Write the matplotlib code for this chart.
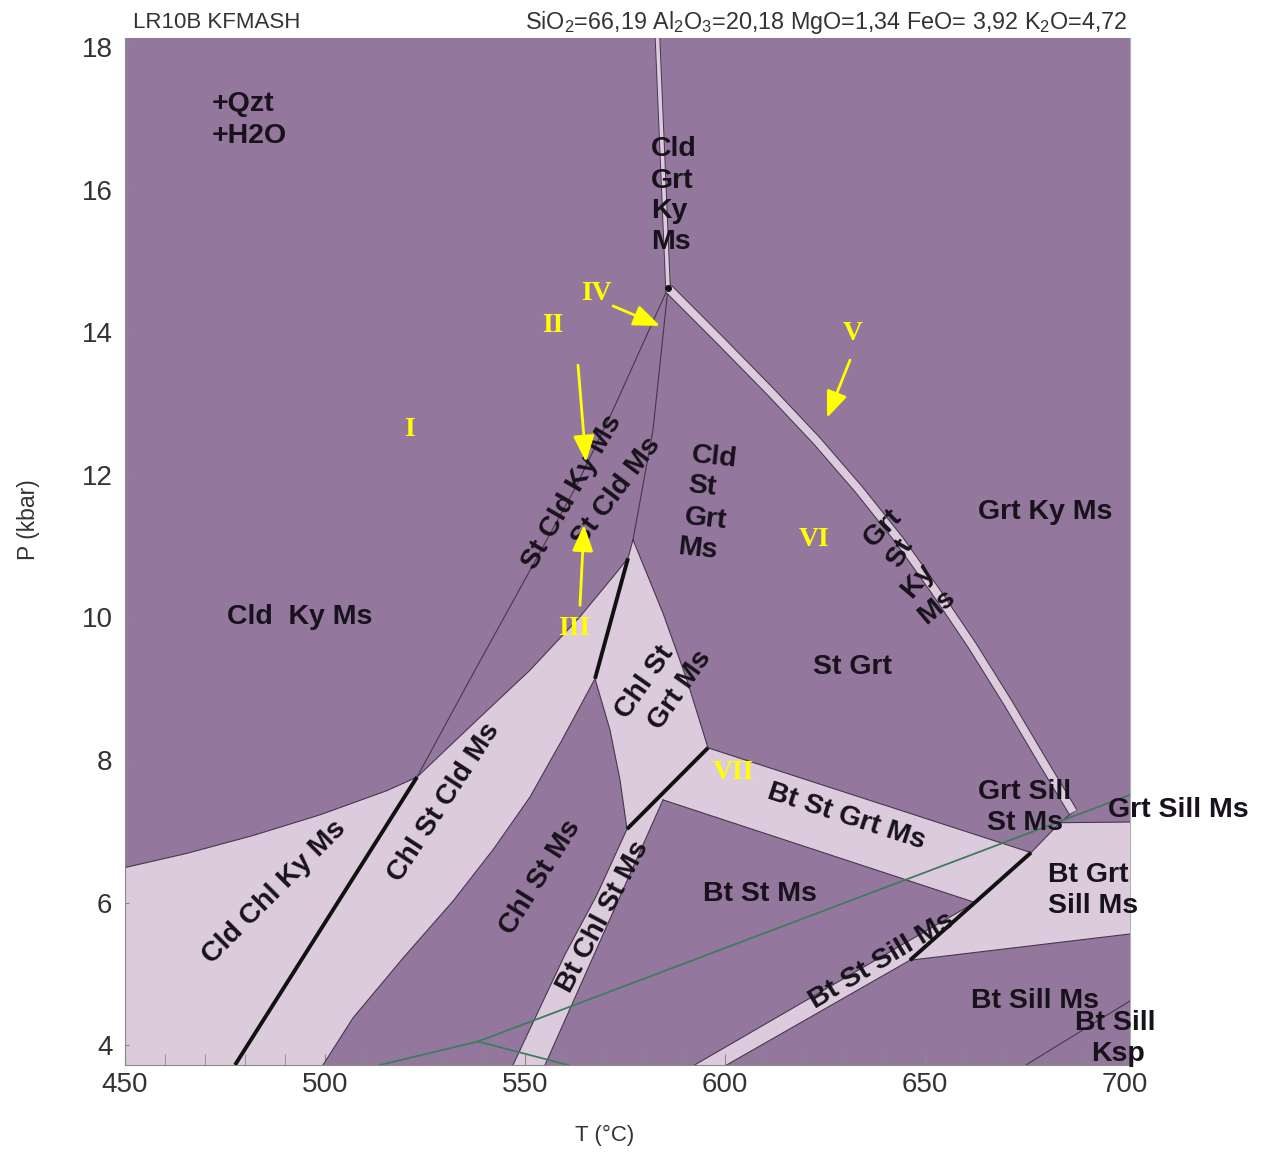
import numpy as np
import matplotlib.pyplot as plt
from matplotlib.patches import Polygon
import matplotlib.patheffects as pe

plt.rcParams['mathtext.default'] = 'regular'

DARK = '#94779c'
LIGHT = '#dccbdc'
EDGE = '#46384c'
GREEN = '#3f7d5c'
YELLOW = '#ffff00'
INK = '#17121b'

T_MIN, T_MAX = 450, 701.25
P_MIN, P_MAX = 3.72, 18.13

# ---- field boundaries (T in degC, P in kbar) ----
# top of Cld Chl Ky Ms
cck_T = [450, 465.5, 482, 498.75, 515.5, 523]
cck_P = [6.49, 6.69, 6.94, 7.23, 7.57, 7.76]
# top of Chl St Cld Ms, ends at the apex of Chl St Grt Ms
cscm_top_T = [523, 538.75, 551.25, 563.75, 572, 575.75, 577]
cscm_top_P = [7.76, 8.60, 9.26, 10.01, 10.57, 10.83, 11.09]
# lower side of Chl St Cld Ms
cscm_bot_T = [567.5, 559.25, 551.25, 542, 532, 519.5, 507, 499.5]
cscm_bot_P = [9.14, 8.28, 7.48, 6.74, 6.02, 5.22, 4.38, 3.72]
# Chl St Grt Ms sides
cstg_right_T = [577, 584.5, 590.5, 595.75]
cstg_right_P = [11.09, 10.06, 9.12, 8.17]
cstg_left_T = [567.5, 571.25, 573.75, 575.5]
cstg_left_P = [9.14, 8.42, 7.72, 7.03]
# Bt Chl St Ms sides
bcs_left_T = [547, 560, 568, 575.5]
bcs_left_P = [3.72, 5.27, 6.11, 7.03]
bcs_right_T = [555, 584.5]
bcs_right_P = [3.72, 7.44]
# Bt St Grt Ms sides
bsg_top_T = [595.75, 676.5]
bsg_top_P = [8.17, 6.70]
bsg_bot_T = [584.5, 662.5]
bsg_bot_P = [7.44, 6.00]
# Bt St Sill Ms sides
bss_top_T = [592.4, 662.5]
bss_top_P = [3.72, 6.00]
bss_bot_T = [600.4, 646.25]
bss_bot_P = [3.72, 5.19]
# Bt Grt Sill Ms top and bottom
bgs_top_T = [676.5, 683.75, 703]
bgs_top_P = [6.70, 7.12, 7.13]
bgs_bot_T = [646.25, 703]
bgs_bot_P = [5.19, 5.57]
# thin lines from the invariant point
lineA_T = [585.75, 578.75, 572.0, 562.5, 551.25, 537.5, 523.0]
lineA_P = [14.62, 13.75, 12.91, 11.81, 10.66, 9.26, 7.76]
lineB_T = [585.75, 582.0, 577.0]
lineB_P = [14.62, 12.63, 11.09]
ksp_T = [675.25, 703]
ksp_P = [3.72, 4.68]
gss_T = [687.0, 683.75]
gss_P = [7.27, 7.12]
# narrow fields drawn as bands
bandIV_T = [583.0, 585.75]
bandIV_P = [18.3, 14.62]
bandV_T = [585.75, 598.75, 611.5, 622.75, 633.25, 643.5, 652.5, 661.75, 670.75, 679.5, 687.0]
bandV_P = [14.62, 13.89, 13.16, 12.49, 11.81, 11.09, 10.38, 9.61, 8.80, 7.97, 7.27]
# univariant reactions (thick)
thick_lines = [
    ([523, 477.5], [7.76, 3.72]),
    ([575.75, 567.5], [10.83, 9.14]),
    ([595.75, 575.5], [8.17, 7.03]),
    ([676.5, 646.25], [6.70, 5.19]),
]
# aluminosilicate lines
ky_and_T, ky_and_P = [513.75, 538.25], [3.72, 4.05]
and_sil_T, and_sil_P = [538.25, 560.75], [4.05, 3.72]
ky_sil_T, ky_sil_P = [538.25, 701.25], [4.05, 7.51]

# field labels: text, T, P, rotation, ha
field_labels = [
    ('+Qzt', 471.75, 17.21, 0, 'left'),
    ('+H2O', 471.75, 16.75, 0, 'left'),
    ('Cld', 581.5, 16.57, 0, 'left'),
    ('Grt', 581.5, 16.13, 0, 'left'),
    ('Ky', 581.5, 15.70, 0, 'left'),
    ('Ms', 581.5, 15.27, 0, 'left'),
    ('Cld  Ky Ms', 493.75, 10.01, 0, 'center'),
    ('Cld', 597.25, 12.24, -6, 'center'),
    ('St', 594.25, 11.83, -6, 'center'),
    ('Grt', 595.25, 11.38, -6, 'center'),
    ('Ms', 593.25, 10.96, -6, 'center'),
    ('Grt Ky Ms', 680, 11.48, 0, 'center'),
    ('St Grt', 632, 9.30, 0, 'center'),
    ('Grt', 639.5, 11.25, 45, 'center'),
    ('St', 643.75, 10.90, 60, 'center'),
    ('Ky', 648.25, 10.52, 50, 'center'),
    ('Ms', 653, 10.15, 40, 'center'),
    ('St Cld Ky Ms', 561.75, 11.76, 60, 'center'),
    ('St Cld Ms', 572.75, 11.76, 53, 'center'),
    ('Chl St', 580, 9.09, 55, 'center'),
    ('Grt Ms', 588.75, 8.98, 55, 'center'),
    ('Chl St Cld Ms', 529.75, 7.41, 57, 'center'),
    ('Cld Chl Ky Ms', 487.25, 6.15, 45, 'center'),
    ('Chl St Ms', 553.75, 6.35, 58, 'center'),
    ('Bt Chl St Ms', 569.5, 5.80, 62, 'center'),
    ('Bt St Ms', 608.75, 6.12, 0, 'center'),
    ('Bt St Grt Ms', 630.25, 7.20, -18, 'center'),
    ('Grt Sill', 675, 7.55, 0, 'center'),
    ('St Ms', 675, 7.12, 0, 'center'),
    ('Grt Sill Ms', 713.25, 7.30, 0, 'center'),
    ('Bt Grt', 680.75, 6.39, 0, 'left'),
    ('Sill Ms', 680.75, 5.95, 0, 'left'),
    ('Bt St Sill Ms', 639.25, 5.19, 31, 'center'),
    ('Bt Sill Ms', 677.5, 4.62, 0, 'center'),
    ('Bt Sill', 697.5, 4.31, 0, 'center'),
    ('Ksp', 698.25, 3.88, 0, 'center'),
]

# assemblage numbers and their arrows (tail -> head)
numerals = [('I', 521, 12.63), ('II', 557, 14.10), ('III', 562.25, 9.85),
            ('IV', 567.75, 14.55), ('V', 632, 13.99), ('VI', 622.25, 11.09),
            ('VII', 602, 7.82)]
arrows = [((563.25, 13.54), (565.25, 12.18)),
          ((563.75, 10.17), (564.75, 11.30)),
          ((572.0, 14.37), (583.75, 14.09)),
          ((631.25, 13.61), (625.5, 12.80))]


def xy(T, P):
    return np.column_stack([T, P])


fig = plt.figure(figsize=(12.65, 11.52), dpi=100)
ax = fig.add_axes([125 / 1265, 87 / 1152, 1005 / 1265, 1027 / 1152])
ax.set_facecolor(DARK)
ax.set_xlim(T_MIN, T_MAX)
ax.set_ylim(P_MIN, P_MAX)

# light (high-variance) fields
poly1 = np.vstack([[[450, P_MIN]], xy(cck_T, cck_P), xy(cscm_top_T, cscm_top_P),
                   [[575.75, 10.83]], xy(cscm_bot_T, cscm_bot_P)])
poly2 = np.vstack([xy(cstg_right_T, cstg_right_P), xy(cstg_left_T, cstg_left_P)[::-1],
                   [[575.75, 10.83]]])
poly3 = np.vstack([xy(bcs_left_T, bcs_left_P), xy(bsg_top_T, bsg_top_P),
                   xy(bsg_bot_T, bsg_bot_P)[::-1], xy(bcs_right_T, bcs_right_P)[::-1]])
poly4 = np.vstack([xy(bss_top_T, bss_top_P), xy(bgs_top_T, bgs_top_P),
                   xy(bgs_bot_T, bgs_bot_P)[::-1], xy(bss_bot_T, bss_bot_P)[::-1]])
for p in (poly1, poly2, poly3, poly4):
    ax.add_patch(Polygon(p, closed=True, facecolor=LIGHT, edgecolor='none', zorder=1))

# thin field boundaries
thin = [(cck_T, cck_P), (cscm_top_T, cscm_top_P), (cscm_bot_T, cscm_bot_P),
        (cstg_right_T, cstg_right_P), (cstg_left_T, cstg_left_P),
        (bcs_left_T, bcs_left_P), (bcs_right_T, bcs_right_P),
        (bsg_top_T, bsg_top_P), (bsg_bot_T, bsg_bot_P),
        (bss_top_T, bss_top_P), (bss_bot_T, bss_bot_P),
        (bgs_top_T, bgs_top_P), (bgs_bot_T, bgs_bot_P),
        (lineA_T, lineA_P), (lineB_T, lineB_P), (ksp_T, ksp_P), (gss_T, gss_P)]
for T, P in thin:
    ax.plot(T, P, color=EDGE, lw=0.8, zorder=2, solid_joinstyle='round')

# aluminosilicate stability lines
for T, P in [(ky_and_T, ky_and_P), (and_sil_T, and_sil_P), (ky_sil_T, ky_sil_P)]:
    ax.plot(T, P, color=GREEN, lw=1.3, zorder=3)

# narrow fields as outlined bands
ax.plot(bandIV_T, bandIV_P, color=LIGHT, lw=2.6, solid_capstyle='butt', zorder=3,
        path_effects=[pe.Stroke(linewidth=4.0, foreground=EDGE), pe.Normal()])
ax.plot(bandV_T, bandV_P, color=LIGHT, lw=5.6, solid_capstyle='butt',
        solid_joinstyle='round', zorder=3,
        path_effects=[pe.Stroke(linewidth=7.1, foreground=EDGE, joinstyle='round'),
                      pe.Normal()])
ax.plot([585.75], [14.62], 'o', color='#111111', ms=4, zorder=4)

for T, P in thick_lines:
    ax.plot(T, P, color='#111111', lw=2.8, solid_capstyle='butt', zorder=4)

for s, T, P, rot, ha in field_labels:
    ax.text(T, P, s, rotation=rot, ha=ha, va='center', rotation_mode='anchor',
            fontsize=20.5, fontweight='bold', family='Liberation Sans', color=INK, zorder=5)

for s, T, P in numerals:
    ax.text(T, P, s, ha='center', va='center', fontsize=20, fontweight='bold',
            family='Liberation Serif', color=YELLOW, zorder=6)
for tail, head in arrows:
    ax.annotate('', xy=head, xytext=tail, zorder=6,
                arrowprops=dict(arrowstyle='-|>,head_length=0.8,head_width=0.32',
                                color=YELLOW, lw=2.0, mutation_scale=20,
                                shrinkA=0, shrinkB=0))

# axes
ax.set_xticks(np.arange(450, 701, 50))
ax.set_xticks(np.arange(450, 701, 10), minor=True)
ax.set_yticks(np.arange(4, 19, 2))
ax.tick_params(axis='x', which='both', direction='in', length=8, color='#8a8a8a',
               labelsize=20, labelcolor='#333333', pad=5)
ax.tick_params(axis='y', direction='in', length=3, color='#8a8a8a',
               labelsize=20, labelcolor='#333333', pad=9)
for lbl in ax.get_xticklabels() + ax.get_yticklabels():
    lbl.set_family('Liberation Sans')
ax.spines['top'].set_visible(False)
for side in ('left', 'bottom'):
    ax.spines[side].set_color('#8a8a8a')
ax.spines['right'].set_color('#b0b0b0')
ax.spines['right'].set_linewidth(0.8)

fig.text(28 / 1265, 1 - 520 / 1152, 'P (kbar)', rotation=90, ha='center', va='center',
         fontsize=16.5, family='Liberation Sans', color='#333333')
fig.text(605 / 1265, 1 - 1135 / 1152, 'T (°C)', ha='center', va='center',
         fontsize=16, family='Liberation Sans', color='#333333')
fig.text(133 / 1265, 1 - 22 / 1152, 'LR10B KFMASH', ha='left', va='center',
         fontsize=16, family='Liberation Sans', color='#333333')
fig.text(1127 / 1265, 1 - 22 / 1152,
         r'SiO$_2$=66,19 Al$_2$O$_3$=20,18 MgO=1,34 FeO= 3,92 K$_2$O=4,72',
         ha='right', va='center', fontsize=16.8, family='Liberation Sans', color='#333333')

fig.savefig('out.png', dpi=100, facecolor='white')
